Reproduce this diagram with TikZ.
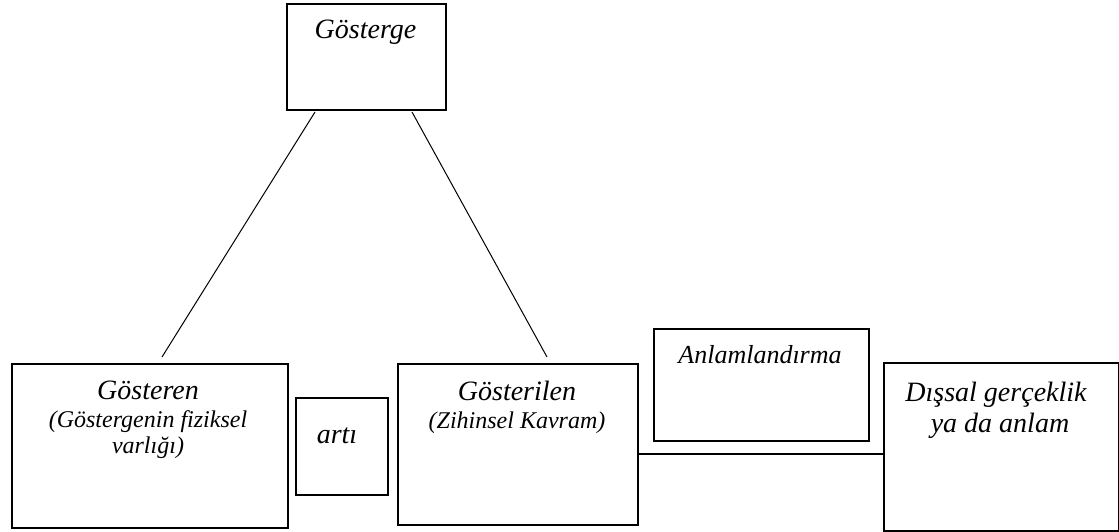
\documentclass[tikz,border=0pt]{standalone}
\usepackage{fontspec}
\setmainfont{Liberation Serif}
\begin{document}
\begin{tikzpicture}[x=1pt,y=-1pt,
  box/.style={draw,line width=1.6pt,anchor=north west,inner sep=0pt},
  link/.style={line width=1pt},
  hline/.style={line width=1.6pt},
  big/.style={font=\fontsize{28}{30}\selectfont\itshape,anchor=base,inner sep=0pt},
  mid/.style={font=\fontsize{26}{28}\selectfont\itshape,anchor=base,inner sep=0pt},
  small/.style={font=\fontsize{24}{26}\selectfont\itshape,anchor=base,inner sep=0pt}]
\useasboundingbox (0,0) rectangle (1119,531);
% boxes
\node[box,minimum width=159pt,minimum height=106pt] (gosterge) at (286,3) {};
\node[box,minimum width=276pt,minimum height=164pt] (gosteren) at (11,363) {};
\node[box,minimum width=92pt,minimum height=97pt] (arti) at (295,397) {};
\node[box,minimum width=240pt,minimum height=161pt] (gosterilen) at (397,363) {};
\node[box,minimum width=215pt,minimum height=112pt] (anlam) at (653,328) {};
\node[box,minimum width=235pt,minimum height=168pt] (dissal) at (883,362) {};
% texts
\node[big] (t1) at (365.5,38) {Gösterge};
\node[big] (t2) at (148,399) {Gösteren};
\node[small] (t3) at (148,427) {(Göstergenin fiziksel};
\node[small] (t4) at (148,453) {varlığı)};
\node[big] (t5) at (337,443) {artı};
\node[big] (t6) at (517,400) {Gösterilen};
\node[small] (t7) at (517,428) {(Zihinsel Kavram)};
\node[mid] (t8) at (760,363) {Anlamlandırma};
\node[big] (t9) at (996,401) {Dışsal gerçeklik};
\node[big] (t10) at (1000,432) {ya da anlam};
% connectors
\coordinate (la) at (315,112);
\coordinate (lb) at (162,357);
\coordinate (ra) at (412,112);
\coordinate (rb) at (547,357);
\coordinate (h) at (0,454);
\draw[link] (la) -- (lb);
\draw[link] (ra) -- (rb);
\draw[hline] (gosterilen.east |- h) -- (dissal.west |- h);
\end{tikzpicture}
\end{document}
